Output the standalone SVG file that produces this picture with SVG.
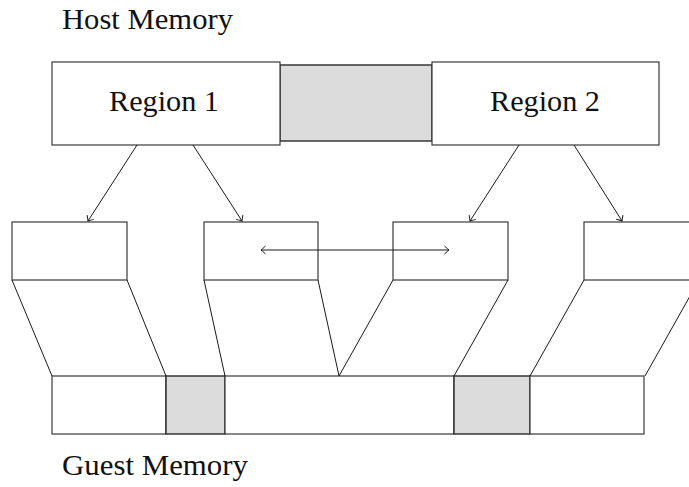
<svg xmlns="http://www.w3.org/2000/svg" width="689" height="487" viewBox="0 0 689 487">
  <style>
    .box { fill: #ffffff; stroke: #3a3a3a; stroke-width: 1.2; }
    .gap { fill: #dcdcdc; stroke: #2a2a2a; stroke-width: 1.4; }
    .ln { fill: none; stroke: #1a1a1a; stroke-width: 1; }
    .lbl { font-family: "Liberation Serif", "DejaVu Serif", serif; font-size: 30px; fill: #111; }
  </style>
  <defs>
    <marker id="tip" viewBox="-6 -5 7 10" refX="0" refY="0" markerWidth="7" markerHeight="10" markerUnits="userSpaceOnUse" orient="auto-start-reverse">
      <path d="M -4.5 -4 Q -1.2 -0.8 0 0 Q -1.2 0.8 -4.5 4" fill="none" stroke="#1a1a1a" stroke-width="1"/>
    </marker>
  </defs>

  <text class="lbl" x="62" y="29" textLength="171" lengthAdjust="spacingAndGlyphs">Host Memory</text>
  <text class="lbl" x="62" y="475" textLength="186" lengthAdjust="spacingAndGlyphs">Guest Memory</text>

  <!-- host memory row -->
  <g id="host-gap"><rect class="gap" x="280" y="65" width="152" height="76"/></g>
  <g id="region1">
    <rect class="box" x="52" y="62" width="228" height="83"/>
    <text class="lbl" x="109" y="111" textLength="110" lengthAdjust="spacingAndGlyphs">Region 1</text>
  </g>
  <g id="region2">
    <rect class="box" x="432" y="62" width="227" height="83"/>
    <text class="lbl" x="490" y="111" textLength="110" lengthAdjust="spacingAndGlyphs">Region 2</text>
  </g>

  <!-- mapped pieces -->
  <g id="piece-a"><rect class="box" x="12" y="222" width="115" height="58"/></g>
  <g id="piece-b"><rect class="box" x="204" y="222" width="114" height="58"/></g>
  <g id="piece-c"><rect class="box" x="393" y="222" width="115" height="58"/></g>
  <g id="piece-d"><rect class="box" x="584" y="222" width="115" height="58"/></g>

  <!-- guest memory row -->
  <g id="guest">
    <rect class="box" x="52" y="376" width="114" height="58"/>
    <rect class="gap" x="166" y="376" width="59" height="58"/>
    <rect class="box" x="225" y="376" width="229" height="58"/>
    <rect class="gap" x="454" y="376" width="76" height="58"/>
    <rect class="box" x="530" y="376" width="114" height="58"/>
  </g>

  <g id="connectors">
    <line class="ln" x1="137" y1="145" x2="88" y2="221" marker-end="url(#tip)"/>
    <line class="ln" x1="193" y1="145" x2="242" y2="221" marker-end="url(#tip)"/>
    <line class="ln" x1="519" y1="145" x2="470" y2="221" marker-end="url(#tip)"/>
    <line class="ln" x1="574" y1="145" x2="622" y2="221" marker-end="url(#tip)"/>
    <line class="ln" x1="261" y1="250" x2="449" y2="250" marker-start="url(#tip)" marker-end="url(#tip)"/>

    <line class="ln" x1="12" y1="280" x2="52" y2="376"/>
    <line class="ln" x1="127" y1="280" x2="166" y2="376"/>
    <line class="ln" x1="204" y1="280" x2="225" y2="376"/>
    <line class="ln" x1="318" y1="280" x2="339" y2="376"/>
    <line class="ln" x1="393" y1="280" x2="339" y2="376"/>
    <line class="ln" x1="508" y1="280" x2="454" y2="376"/>
    <line class="ln" x1="584" y1="280" x2="530" y2="376"/>
    <line class="ln" x1="699" y1="280" x2="645" y2="376"/>
  </g>
</svg>
